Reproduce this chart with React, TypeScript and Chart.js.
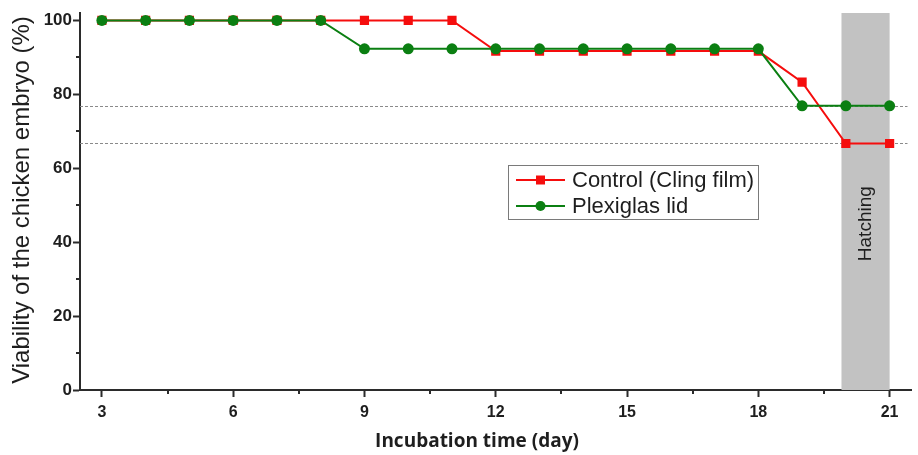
import React, { useEffect, useRef } from "react";
import { Chart, registerables } from "chart.js";

Chart.register(...registerables);

const DAYS = [3, 4, 5, 6, 7, 8, 9, 10, 11, 12, 13, 14, 15, 16, 17, 18, 19, 20, 21];
const CONTROL = [100, 100, 100, 100, 100, 100, 100, 100, 100, 91.7, 91.7, 91.7, 91.7, 91.7, 91.7, 91.7, 83.3, 66.7, 66.7];
const PLEXIGLAS = [100, 100, 100, 100, 100, 100, 92.3, 92.3, 92.3, 92.3, 92.3, 92.3, 92.3, 92.3, 92.3, 92.3, 76.9, 76.9, 76.9];
const SERIES_NAMES = ["Control (Cling film)", "Plexiglas lid"];
const X_TICKS = [3, 4.5, 6, 7.5, 9, 10.5, 12, 13.5, 15, 16.5, 18, 19.5, 21];
const Y_TICKS = [0, 10, 20, 30, 40, 50, 60, 70, 80, 90, 100];
const REF_LINES = [76.9, 66.7];
const HATCH_RANGE = [19.9, 21];
const HATCH_LABEL = "Hatching";
const X_TITLE = "Incubation time (day)";
const Y_TITLE = "Viability of the chicken embryo (%)";

const RED = "#f50d0d";
const GREEN = "#0b7f12";
const AXIS = "#2b2b2b";

const decorPlugin = {
  id: "decor",
  beforeDatasetsDraw(chart: any) {
    const { ctx, chartArea, scales } = chart;
    const x = scales.x, y = scales.y;
    ctx.save();
    const x0 = x.getPixelForValue(HATCH_RANGE[0]);
    const x1 = x.getPixelForValue(HATCH_RANGE[1]);
    ctx.fillStyle = "#c2c2c2";
    ctx.fillRect(x0, chartArea.top, x1 - x0, chartArea.bottom - chartArea.top);
    ctx.strokeStyle = "#8a8a8a";
    ctx.lineWidth = 1;
    ctx.setLineDash([3, 2]);
    REF_LINES.forEach((v) => {
      const py = Math.round(y.getPixelForValue(v)) + 0.5;
      ctx.beginPath();
      ctx.moveTo(chartArea.left, py);
      ctx.lineTo(chartArea.right - 4, py);
      ctx.stroke();
    });
    ctx.setLineDash([]);
    ctx.translate((x0 + x1) / 2, y.getPixelForValue(45));
    ctx.rotate(-Math.PI / 2);
    ctx.fillStyle = "#1e1e1e";
    ctx.font = "19px 'Liberation Sans', Arial, sans-serif";
    ctx.textAlign = "center";
    ctx.textBaseline = "middle";
    ctx.fillText(HATCH_LABEL, 0, 0);
    ctx.restore();
  },
  afterDraw(chart: any) {
    const { ctx, chartArea, scales } = chart;
    const x = scales.x, y = scales.y;
    ctx.save();
    ctx.strokeStyle = AXIS;
    ctx.lineWidth = 2;
    X_TICKS.forEach((v) => {
      if (v % 3 !== 0) {
        const px = Math.round(x.getPixelForValue(v));
        ctx.beginPath();
        ctx.moveTo(px, chartArea.bottom);
        ctx.lineTo(px, chartArea.bottom + 4);
        ctx.stroke();
      }
    });
    Y_TICKS.forEach((v) => {
      if (v % 20 !== 0) {
        const py = Math.round(y.getPixelForValue(v));
        ctx.beginPath();
        ctx.moveTo(chartArea.left, py);
        ctx.lineTo(chartArea.left - 4, py);
        ctx.stroke();
      }
    });
    ctx.fillStyle = "#1e1e1e";
    ctx.textAlign = "center";
    ctx.textBaseline = "middle";
    ctx.font = "bold 19px 'Open Sans', sans-serif";
    ctx.fillText(X_TITLE, 477, 442);
    ctx.save();
    ctx.translate(22, 200);
    ctx.rotate(-Math.PI / 2);
    ctx.font = "24px 'Liberation Sans', Arial, sans-serif";
    ctx.fillText(Y_TITLE, 0, 0);
    ctx.restore();
    const bx = 508, by = 165, bw = 250, bh = 54;
    ctx.fillStyle = "#ffffff";
    ctx.fillRect(bx, by, bw, bh);
    ctx.strokeStyle = "#7a7a7a";
    ctx.lineWidth = 1;
    ctx.strokeRect(bx + 0.5, by + 0.5, bw, bh);
    const rows = [
      { name: SERIES_NAMES[0], color: RED, shape: "rect", yy: 180 },
      { name: SERIES_NAMES[1], color: GREEN, shape: "circle", yy: 206 },
    ];
    rows.forEach((r) => {
      ctx.strokeStyle = r.color;
      ctx.lineWidth = 2;
      ctx.beginPath();
      ctx.moveTo(516, r.yy);
      ctx.lineTo(565, r.yy);
      ctx.stroke();
      ctx.fillStyle = r.color;
      if (r.shape === "rect") {
        ctx.fillRect(536, r.yy - 4.5, 9, 9);
      } else {
        ctx.beginPath();
        ctx.arc(540.5, r.yy, 5, 0, Math.PI * 2);
        ctx.fill();
      }
      ctx.fillStyle = "#1e1e1e";
      ctx.font = "22px 'Liberation Sans', Arial, sans-serif";
      ctx.textAlign = "left";
      ctx.textBaseline = "middle";
      ctx.fillText(r.name, 572, r.yy + 1);
    });
    ctx.restore();
  },
};

export default function App() {
  const ref = useRef<HTMLCanvasElement | null>(null);
  useEffect(() => {
    if (!ref.current) return;
    const chart = new Chart(ref.current, {
      type: "line",
      data: {
        datasets: [
          {
            label: SERIES_NAMES[0],
            data: DAYS.map((d, i) => ({ x: d, y: CONTROL[i] })),
            borderColor: RED,
            backgroundColor: RED,
            borderWidth: 2,
            pointStyle: "rect",
            pointRadius: 6.5,
            pointBorderWidth: 0,
            tension: 0,
            order: 1,
          },
          {
            label: SERIES_NAMES[1],
            data: DAYS.map((d, i) => ({ x: d, y: PLEXIGLAS[i] })),
            borderColor: GREEN,
            backgroundColor: GREEN,
            borderWidth: 2,
            pointStyle: "circle",
            pointRadius: 5.5,
            pointBorderWidth: 0,
            tension: 0,
            order: 0,
          },
        ],
      },
      options: {
        responsive: false,
        animation: false,
        layout: { padding: { top: 13, right: 5, left: 0, bottom: 0 } },
        plugins: { legend: { display: false }, tooltip: { enabled: false } },
        scales: {
          x: {
            type: "linear",
            min: 2.5,
            max: 21.5,
            afterBuildTicks: (s: any) => {
              s.ticks = X_TICKS.map((v) => ({ value: v }));
            },
            afterFit: (s: any) => {
              s.height = 65;
            },
            ticks: {
              autoSkip: false,
              maxRotation: 0,
              padding: 6,
              color: "#1e1e1e",
              font: { family: "'Liberation Sans', Arial, sans-serif", size: 16, weight: "bold" },
              callback: (v: any) => (Number(v) % 3 === 0 ? String(v) : ""),
            },
            grid: {
              drawOnChartArea: false,
              drawTicks: true,
              tickLength: 7,
              tickWidth: 2,
              tickColor: (c: any) => (c.tick && c.tick.value % 3 === 0 ? AXIS : "rgba(0,0,0,0)"),
            },
            border: { display: true, color: AXIS, width: 2 },
          },
          y: {
            type: "linear",
            min: 0,
            max: 102,
            afterBuildTicks: (s: any) => {
              s.ticks = Y_TICKS.map((v) => ({ value: v }));
            },
            afterFit: (s: any) => {
              s.width = 80;
            },
            ticks: {
              autoSkip: false,
              padding: 1,
              color: "#1e1e1e",
              font: { family: "'Liberation Sans', Arial, sans-serif", size: 17, weight: "bold" },
              callback: (v: any) => (Number(v) % 20 === 0 ? String(v) : ""),
            },
            grid: {
              drawOnChartArea: false,
              drawTicks: true,
              tickLength: 7,
              tickWidth: 2,
              tickColor: (c: any) => (c.tick && c.tick.value % 20 === 0 ? AXIS : "rgba(0,0,0,0)"),
            },
            border: { display: true, color: AXIS, width: 2 },
          },
        },
      },
      plugins: [decorPlugin],
    } as any);
    return () => chart.destroy();
  }, []);
  return (
    <div style={{ position: "fixed", left: 0, top: 0, width: 918, height: 455, background: "#fff" }}>
      <canvas ref={ref} width={918} height={455} style={{ display: "block" }} />
    </div>
  );
}
